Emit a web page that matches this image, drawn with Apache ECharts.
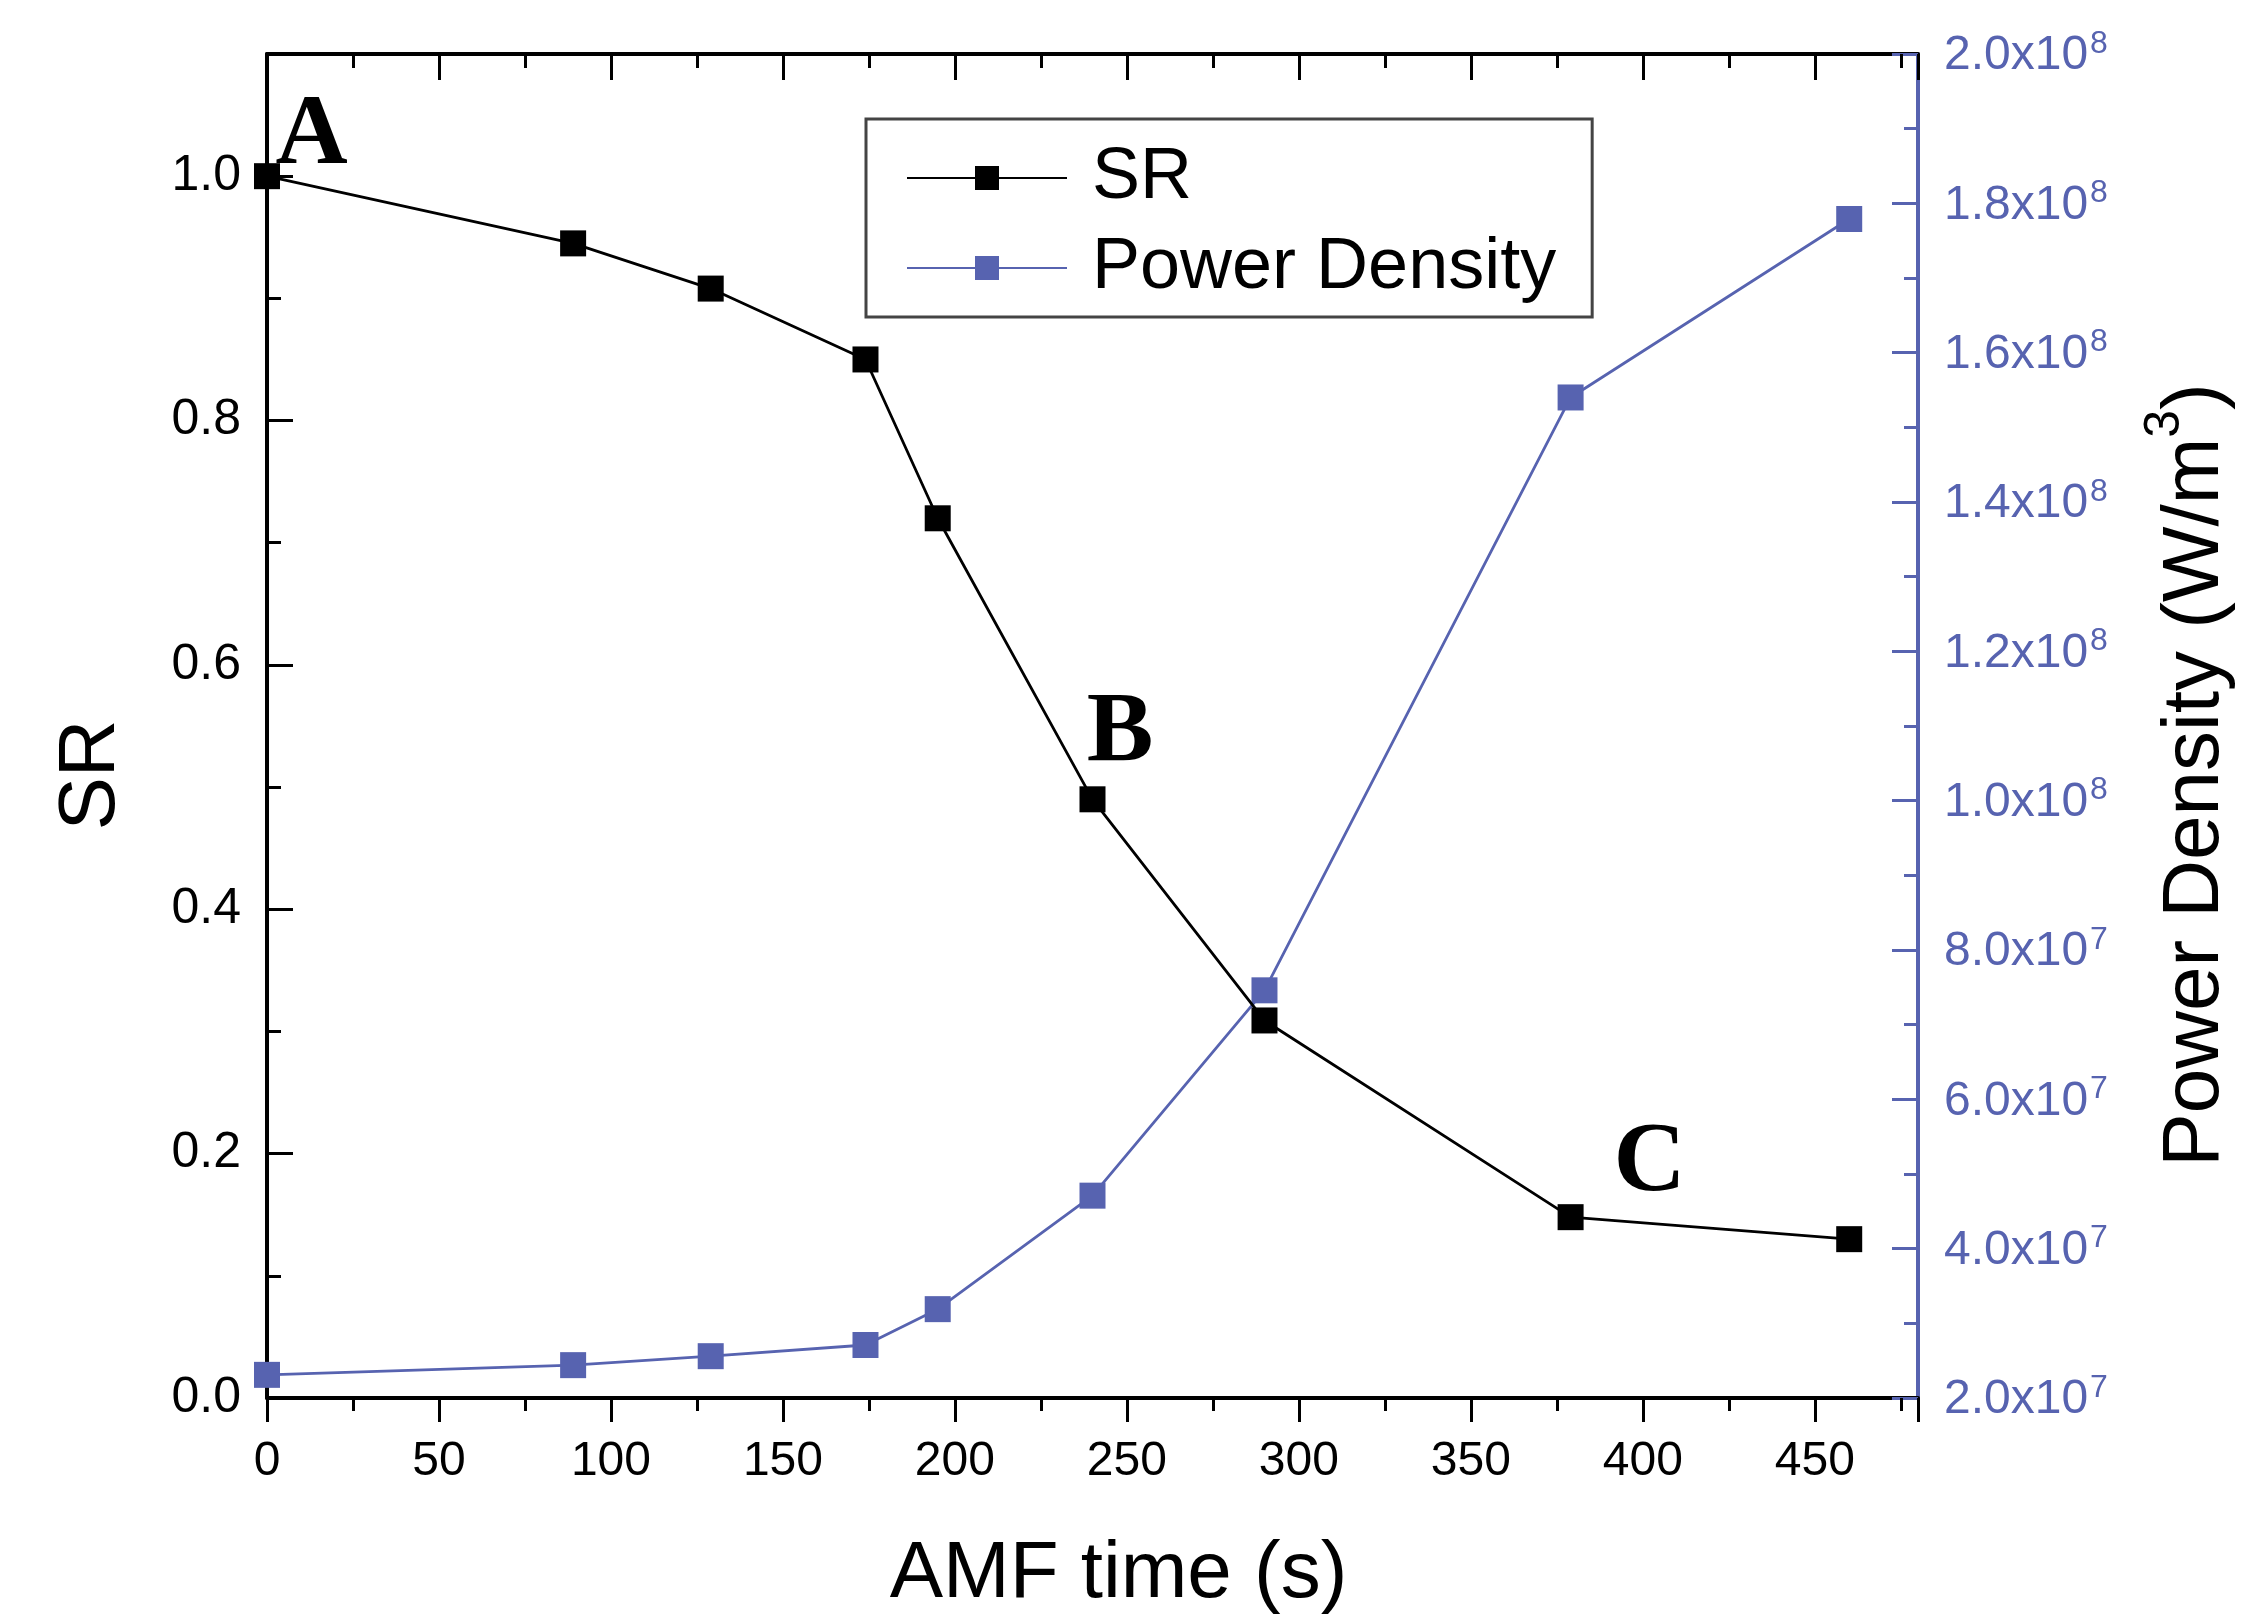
<!DOCTYPE html>
<html><head><meta charset="utf-8">
<script src="https://cdn.jsdelivr.net/npm/echarts@6/dist/echarts.min.js"></script>
<style>html,body{margin:0;padding:0;background:#fff}#c{width:2248px;height:1615px}</style>
</head><body><div id="c"></div>
<script>
const amfTime = [0, 89, 129, 174, 195, 240, 290, 379, 460];
const srValues = [1.0, 0.945, 0.908, 0.85, 0.72, 0.49, 0.309, 0.148, 0.13];
const powerDensity = [2.31e7, 2.44e7, 2.56e7, 2.71e7, 3.19e7, 4.71e7, 7.46e7, 1.54e8, 1.779e8];
const annotations = [
  {name: 'A', x: 13, y: 1.032},
  {name: 'B', x: 248, y: 0.543},
  {name: 'C', x: 402, y: 0.191}
];
const seriesNames = ['SR', 'Power Density'];
const xTitle = 'AMF time (s)';
const leftTitle = 'SR';

const BLUE = '#5763B0';
const FONT = '"Liberation Sans", Arial, sans-serif';

const chart = echarts.init(document.getElementById('c'), null, {renderer: 'canvas'});

function sciLabel(v) {
  const exp = Math.floor(Math.log10(v) + 1e-9);
  const mant = v / Math.pow(10, exp);
  return '{b|' + mant.toFixed(1) + 'x10}{s|' + exp + '}';
}

const option = {
  backgroundColor: '#fff',
  animation: false,
  grid: {left: 267, right: 330, top: 54, bottom: 217, containLabel: false, outerBoundsMode: 'none'},
  legend: {
    left: 866, top: 119, orient: 'vertical',
    itemWidth: 160, itemHeight: 30, itemGap: 18,
    padding: [23, 36, 13, 40],
    borderColor: '#444', borderWidth: 3,
    textStyle: {fontSize: 72, fontFamily: FONT, color: '#000', padding: [0, 0, 0, 20]},
    data: seriesNames
  },
  xAxis: [
    {
      type: 'value', position: 'bottom', min: 0, max: 480, interval: 50,
      name: xTitle, nameLocation: 'middle', nameGap: 137,
      nameTextStyle: {fontSize: 80, fontFamily: FONT, color: '#000', padding: [0, 0, 0, 52]},
      axisLine: {show: true, onZero: false, lineStyle: {color: '#000', width: 4}},
      axisTick: {show: true, inside: false, length: 24, lineStyle: {color: '#000', width: 3}},
      minorTick: {show: true, splitNumber: 2, length: 13, lineStyle: {color: '#000', width: 3}},
      axisLabel: {fontSize: 48, fontFamily: FONT, color: '#000', margin: 40,
        formatter: v => (v % 50 === 0 ? String(v) : '')},
      splitLine: {show: false}
    },
    {
      type: 'value', position: 'top', min: 0, max: 480, interval: 50,
      axisLine: {show: true, onZero: false, lineStyle: {color: '#000', width: 4}},
      axisTick: {show: true, inside: true, length: 26, lineStyle: {color: '#000', width: 3}},
      minorTick: {show: true, splitNumber: 2, length: 14, lineStyle: {color: '#000', width: 3}},
      axisLabel: {show: false},
      splitLine: {show: false}
    }
  ],
  yAxis: [
    {
      type: 'value', position: 'left', min: 0, max: 1.1, interval: 0.2,
      name: leftTitle, nameLocation: 'middle', nameGap: 135, nameRotate: 90,
      nameTextStyle: {fontSize: 80, fontFamily: FONT, color: '#000', padding: [0, 98, 0, 0]},
      axisLine: {show: true, onZero: false, lineStyle: {color: '#000', width: 4}},
      axisTick: {show: true, inside: true, length: 26, lineStyle: {color: '#000', width: 3}},
      minorTick: {show: true, splitNumber: 2, length: 14, lineStyle: {color: '#000', width: 3}},
      axisLabel: {fontSize: 50, fontFamily: FONT, color: '#000', margin: 26,
        formatter: v => (Math.abs(v * 10 % 2) < 1e-6 || Math.abs(v * 10 % 2 - 2) < 1e-6 ? v.toFixed(1) : '')},
      splitLine: {show: false}
    },
    {
      type: 'value', position: 'right', min: 2e7, max: 2e8, interval: 2e7,
      name: '{a|Power Density (W/m}{s|3}{a|)}', nameLocation: 'middle', nameGap: 222, nameRotate: 90,
      nameTextStyle: {
        fontSize: 80, fontFamily: FONT, color: '#000', padding: [0, 98, 0, 0],
        rich: {
          a: {fontSize: 80, fontFamily: FONT, color: '#000', lineHeight: 96, verticalAlign: 'bottom'},
          s: {fontSize: 50, fontFamily: FONT, color: '#000', lineHeight: 50, verticalAlign: 'top', padding: [0, 0, 46, 0]}
        }
      },
      axisLine: {show: true, onZero: false, lineStyle: {color: BLUE, width: 4}},
      axisTick: {show: true, inside: true, length: 26, lineStyle: {color: BLUE, width: 3}},
      minorTick: {show: true, splitNumber: 2, length: 14, lineStyle: {color: BLUE, width: 3}},
      axisLabel: {
        fontSize: 48, fontFamily: FONT, color: BLUE, margin: 26,
        formatter: sciLabel,
        rich: {
          b: {fontSize: 48, fontFamily: FONT, color: BLUE, lineHeight: 52, verticalAlign: 'bottom'},
          s: {fontSize: 32, fontFamily: FONT, color: BLUE, lineHeight: 32, verticalAlign: 'top', padding: [0, 0, 28, 2]}
        }
      },
      splitLine: {show: false}
    }
  ],
  series: [
    {
      name: seriesNames[0], type: 'line', xAxisIndex: 0, yAxisIndex: 0,
      data: amfTime.map((t, i) => [t, srValues[i]]),
      symbol: 'rect', symbolSize: 26,
      lineStyle: {color: '#000', width: 2.8},
      itemStyle: {color: '#000'},
      z: 3,
      markPoint: {
        symbol: 'circle', symbolSize: 1,
        itemStyle: {color: 'rgba(0,0,0,0)'},
        label: {show: true, position: 'inside', formatter: '{b}', fontFamily: '"Liberation Serif", "Times New Roman", serif',
          fontWeight: 'bold', fontSize: 100, color: '#000'},
        data: annotations.map(a => ({name: a.name, coord: [a.x, a.y]}))
      }
    },
    {
      name: seriesNames[1], type: 'line', xAxisIndex: 0, yAxisIndex: 1,
      data: amfTime.map((t, i) => [t, powerDensity[i]]),
      symbol: 'rect', symbolSize: 26,
      lineStyle: {color: BLUE, width: 2.8},
      itemStyle: {color: BLUE},
      z: 2
    }
  ]
};
chart.setOption(option);
</script>
</body></html>
